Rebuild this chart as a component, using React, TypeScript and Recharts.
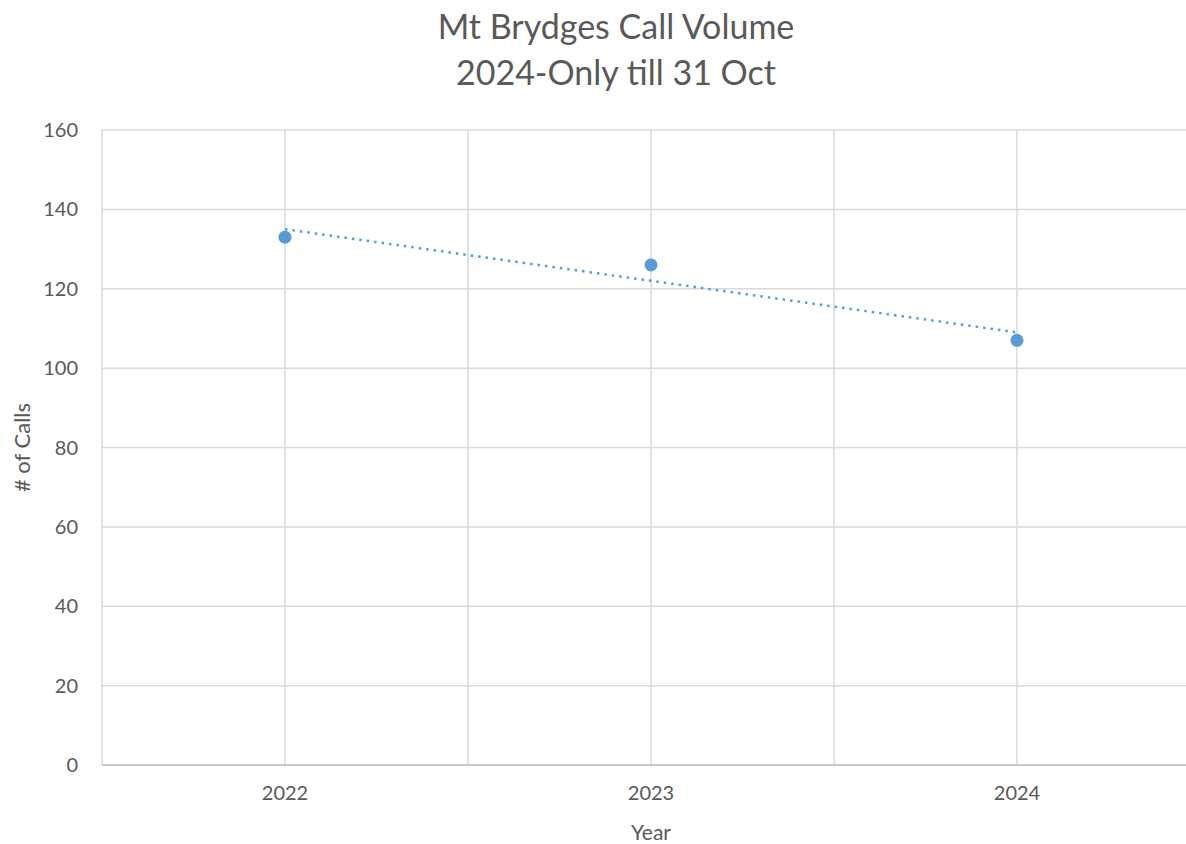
import {
  ComposedChart,
  Scatter,
  Line,
  XAxis,
  YAxis,
  CartesianGrid,
} from "recharts";

// values
const years = [2022, 2023, 2024];
const calls = [133, 126, 107];
const trendCalls = [135, 122, 109];

const xTicks = [2021.5, 2022, 2022.5, 2023, 2023.5, 2024, 2024.5];
const yTicks = [0, 20, 40, 60, 80, 100, 120, 140, 160];

const titleLines = ["Mt Brydges Call Volume", "2024-Only till 31 Oct"];

const BLUE = "#5B9BD5";
const TEXT = "#595959";
const GRID = "#d9d9d9";
const FONT = "Lato, 'Open Sans', sans-serif";

const rows = years.map((y, i) => ({ year: y, calls: calls[i], trend: trendCalls[i] }));

export default function App() {
  return (
    <div
      style={{
        position: "fixed",
        left: 0,
        top: 0,
        width: 1186,
        height: 844,
        overflow: "hidden",
        background: "#fff",
        fontFamily: FONT,
      }}
    >
      <div
        style={{
          position: "absolute",
          top: 3,
          left: 0,
          width: 1232,
          textAlign: "center",
          color: TEXT,
          fontSize: 34,
          lineHeight: "46px",
        }}
      >
        {titleLines.map((t) => (
          <div key={t}>{t}</div>
        ))}
      </div>
      <ComposedChart
        width={1210}
        height={844}
        data={rows}
        margin={{ top: 130, right: 10, left: 0, bottom: 19 }}
      >
        <CartesianGrid stroke={GRID} strokeWidth={1.5} />
        <XAxis
          type="number"
          dataKey="year"
          domain={[2021.5, 2024.5]}
          ticks={xTicks}
          tickFormatter={(v: number) => (Number.isInteger(v) ? String(v) : "")}
          height={60}
          tickLine={false}
          tickMargin={15}
          axisLine={{ stroke: "#bfbfbf", strokeWidth: 1.5 }}
          tick={{ fill: TEXT, fontSize: 20 }}
          label={{ value: "Year", position: "bottom", offset: 0, fill: TEXT, fontSize: 21 }}
        />
        <YAxis
          type="number"
          domain={[0, 160]}
          ticks={yTicks}
          width={102}
          tickLine={false}
          axisLine={false}
          tickMargin={18}
          tick={{ fill: TEXT, fontSize: 20 }}
          label={{
            value: "# of Calls",
            angle: -90,
            position: "insideLeft",
            offset: 22,
            fill: TEXT,
            fontSize: 22,
            style: { textAnchor: "middle" },
          }}
        />
        <Line
          dataKey="trend"
          stroke={BLUE}
          strokeWidth={2.5}
          strokeDasharray="2.5 5"
          dot={false}
          activeDot={false}
          isAnimationActive={false}
        />
        <Scatter
          data={rows}
          dataKey="calls"
          fill={BLUE}
          isAnimationActive={false}
          shape={(p: any) => <circle cx={p.cx} cy={p.cy} r={6.5} fill={BLUE} />}
        />
      </ComposedChart>
    </div>
  );
}
